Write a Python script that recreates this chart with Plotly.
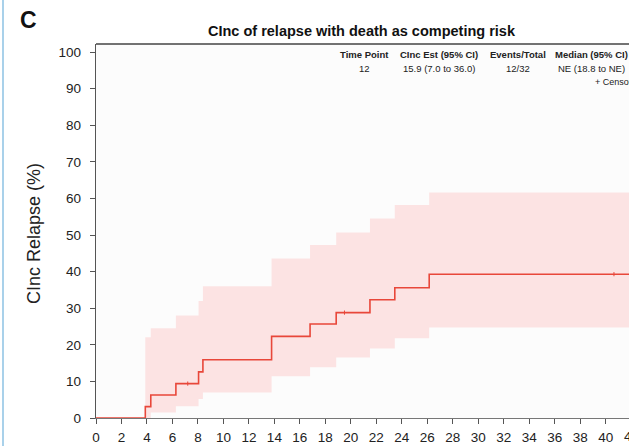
import plotly.graph_objects as go

# Cumulative incidence of relapse (months vs %), step estimates with 95% CI
times = [0, 3.87, 4.3, 6.27, 8.05, 8.39, 13.78, 16.8, 18.85, 21.5, 23.45, 26.15, 44]
cinc = [0, 3.1, 6.3, 9.4, 12.6, 15.9, 22.3, 25.7, 28.8, 32.3, 35.6, 39.3, 39.3]
ci_upper = [0, 22.1, 24.5, 28.0, 32.0, 36.0, 43.6, 47.3, 50.7, 54.5, 58.2, 61.6, 61.6]
ci_lower = [0, 0.0, 1.5, 3.2, 5.2, 7.0, 11.4, 13.9, 16.5, 19.0, 21.8, 24.7, 24.7]

censor_times = [7.2, 19.5, 40.65]
censor_vals = [9.4, 28.8, 39.3]

x_ticks = list(range(0, 42, 2))
y_ticks = list(range(0, 101, 10))

table_headers = ["Time Point", "CInc Est (95% CI)", "Events/Total", "Median (95% CI)"]
table_values = ["12", "15.9 (7.0 to 36.0)", "12/32", "NE (18.8 to NE)"]

LINE = "#e8473a"
BAND = "#fce3e3"
AX = "#555555"
TXT = "#222222"
FONT = "Liberation Sans, Arial, sans-serif"

XMAX = 41.83
YMIN, YMAX = 0, 102.2

fig = go.Figure()

fig.add_trace(go.Scatter(x=times, y=ci_lower, mode="lines", line=dict(width=0, shape="hv"),
                         hoverinfo="skip", showlegend=False))
fig.add_trace(go.Scatter(x=times, y=ci_upper, mode="lines", line=dict(width=0, shape="hv"),
                         fill="tonexty", fillcolor=BAND, hoverinfo="skip", showlegend=False))
fig.add_trace(go.Scatter(x=times, y=cinc, mode="lines", line=dict(color=LINE, width=1.6, shape="hv"),
                         showlegend=False))
fig.add_trace(go.Scatter(x=censor_times, y=censor_vals, mode="markers",
                         marker=dict(symbol="line-ns", size=3, line=dict(color=LINE, width=1)),
                         showlegend=False))

W, H = 629, 446
ML, MR, MT, MB = 96, 0, 44, 28

fig.update_layout(
    width=W, height=H,
    margin=dict(l=ML, r=MR, t=MT, b=MB),
    paper_bgcolor="white",
    plot_bgcolor="#fcfcfc",
    font=dict(family=FONT, color=TXT),
    xaxis=dict(range=[0, XMAX], tickvals=x_ticks, ticks="outside", ticklen=5, tickcolor=AX,
               showline=True, linecolor="#777777", linewidth=1.2, showgrid=False, zeroline=False,
               tickfont=dict(size=13.5, color=TXT), ticklabelstandoff=2),
    yaxis=dict(range=[YMIN, YMAX], tickvals=y_ticks, ticks="outside", ticklen=5, tickcolor=AX,
               showline=True, linecolor=AX, linewidth=1.4, showgrid=False, zeroline=False,
               tickfont=dict(size=13.5, color=TXT), ticklabelstandoff=6),
)

# top border of the plot frame
fig.add_shape(type="line", xref="paper", yref="paper", x0=0, x1=1.05, y0=1, y1=1,
              line=dict(color="#444444", width=1.6))

PW = W - ML - MR
PH = H - MT - MB


def px_x(p):
    return (p - ML) / PW


def px_y(p):
    return (H - MB - p) / PH


# light blue panel rule on the far left
fig.add_shape(type="line", xref="paper", yref="paper",
              x0=px_x(3), x1=px_x(3), y0=px_y(446), y1=px_y(0),
              line=dict(color="#a9d1ea", width=2))


def label(text, x, y, size, color=TXT, family=None, angle=0, xanchor="center"):
    f = dict(size=size, color=color)
    if family:
        f["family"] = family
    return dict(text=text, x=px_x(x), y=px_y(y), xref="paper", yref="paper",
                xanchor=xanchor, yanchor="middle", textangle=angle,
                showarrow=False, font=f)


ann = [
    label("<b>C</b>", 28, 20, 23, color="#111111"),
    label("<b>CInc of relapse with death as competing risk</b>", 362, 31, 14.5, color="#111111"),
    label("CInc Relapse (%)", 34, 234, 18, angle=-90,
          family="Liberation Sans Narrow, Arial Narrow, Liberation Sans"),
]

col_x = [364, 439, 518, 591]
for cx, h, v in zip(col_x, table_headers, table_values):
    ann.append(label("<b>" + h + "</b>", cx, 54.5, 9.5))
    ann.append(label(v, cx, 68, 9.5))
ann.append(label("+ Censored", 593, 82, 9, xanchor="left"))

# tick label just past the right edge
ann.append(dict(text="42", x=42 / XMAX, y=0, xref="paper", yref="paper",
                xanchor="center", yanchor="top", yshift=-9, showarrow=False,
                font=dict(size=13.5, color=TXT)))

fig.update_layout(annotations=ann)

fig.write_html("out.html")
